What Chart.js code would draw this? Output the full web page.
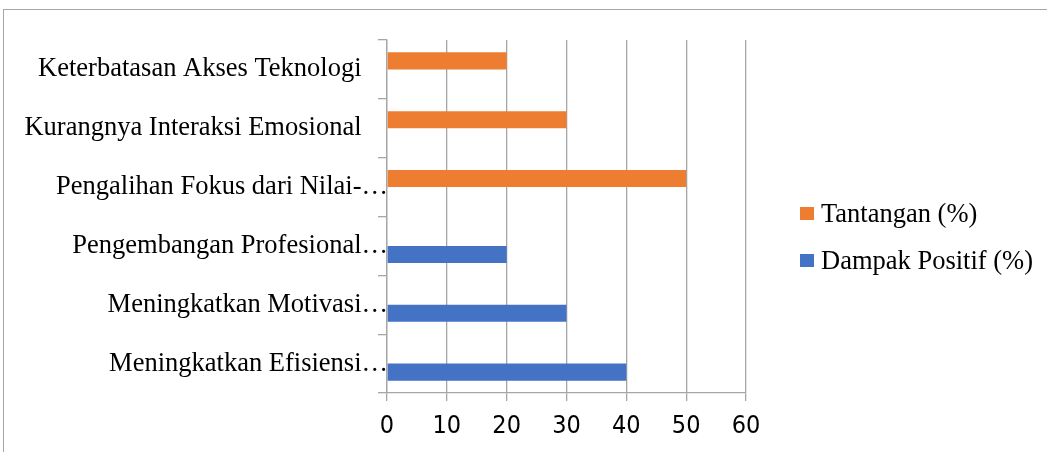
<!DOCTYPE html>
<html>
<head>
<meta charset="utf-8">
<script src="https://cdn.jsdelivr.net/npm/chart.js@4"></script>
<style>
  html, body { margin: 0; padding: 0; background: #fff; overflow: hidden; }
  #wrap { position: relative; width: 1047px; height: 452px; }
  #frame { position: absolute; left: 3px; top: 9px; width: 2000px; height: 1000px; border: 1px solid #a6a6a6; }
  #box { position: absolute; left: 0; top: 0; width: 1047px; height: 452px; }
  #legend { position: absolute; left: 800px; top: 190px; font-family: 'Liberation Serif', 'Times New Roman', serif; font-size: 26.5px; color: #000; }
  .item { display: flex; align-items: center; height: 47px; white-space: nowrap; }
  .sw { width: 14px; height: 13px; margin-right: 7px; flex: none; }
</style>
</head>
<body>
<div id="wrap">
  <div id="frame"></div>
  <div id="box"><canvas id="c"></canvas></div>
  <div id="legend"></div>
</div>
<script>
const categories = [
  "Keterbatasan Akses Teknologi    ",
  "Kurangnya Interaksi Emosional    ",
  "Pengalihan Fokus dari Nilai-\u2026",
  "Pengembangan Profesional\u2026",
  "Meningkatkan Motivasi\u2026",
  "Meningkatkan Efisiensi\u2026"
];
const tantangan = [20, 30, 50, null, null, null];
const dampakPositif = [null, null, null, 20, 30, 40];
const seriesNames = ["Tantangan (%)", "Dampak Positif (%)"];
const seriesColors = ["#ED7D31", "#4472C4"];
const xTicks = [0, 10, 20, 30, 40, 50, 60];

const GRID = '#a6a6a6';
const serif = "'Liberation Serif', 'Times New Roman', serif";
const narrow = "'Liberation Sans Narrow', 'DejaVu Sans Condensed', Lato, sans-serif";

const chart = new Chart(document.getElementById('c'), {
  type: 'bar',
  data: {
    labels: categories,
    datasets: [
      { label: seriesNames[0], data: tantangan, backgroundColor: seriesColors[0], borderWidth: 0,
        categoryPercentage: 0.58, barPercentage: 1.0 },
      { label: seriesNames[1], data: dampakPositif, backgroundColor: seriesColors[1], borderWidth: 0,
        categoryPercentage: 0.58, barPercentage: 1.0 }
    ]
  },
  options: {
    indexAxis: 'y',
    responsive: true,
    maintainAspectRatio: false,
    animation: false,
    devicePixelRatio: 1,
    layout: { padding: { top: 40, left: 0, right: 301, bottom: 0 } },
    plugins: {
      tooltip: { enabled: false },
      legend: { display: false }
    },
    scales: {
      x: {
        min: 0, max: 60,
        afterBuildTicks(scale) { scale.ticks = xTicks.map(v => ({ value: v })); },
        afterFit(scale) { scale.height = 59; },
        ticks: {
          font: { family: narrow, size: 25 },
          color: '#000',
          padding: 10,
          maxRotation: 0,
          autoSkip: false
        },
        grid: { color: GRID, lineWidth: 1.3, tickLength: 8, drawTicks: true },
        border: { display: true, color: GRID, width: 1.3 }
      },
      y: {
        afterFit(scale) { scale.width = 387; },
        ticks: {
          font: { family: serif, size: 26.5 },
          color: '#000',
          padding: -10,
          autoSkip: false
        },
        grid: { drawOnChartArea: false, drawTicks: true, tickLength: 9, offset: true, color: GRID, lineWidth: 1.3 },
        border: { display: true, color: GRID, width: 1.3 }
      }
    }
  }
});

// HTML legend built from the chart's datasets
const legendEl = document.getElementById('legend');
chart.data.datasets.forEach(ds => {
  const item = document.createElement('div');
  item.className = 'item';
  const sw = document.createElement('span');
  sw.className = 'sw';
  sw.style.background = ds.backgroundColor;
  const tx = document.createElement('span');
  tx.textContent = ds.label;
  item.appendChild(sw);
  item.appendChild(tx);
  legendEl.appendChild(item);
});
</script>
</body>
</html>
